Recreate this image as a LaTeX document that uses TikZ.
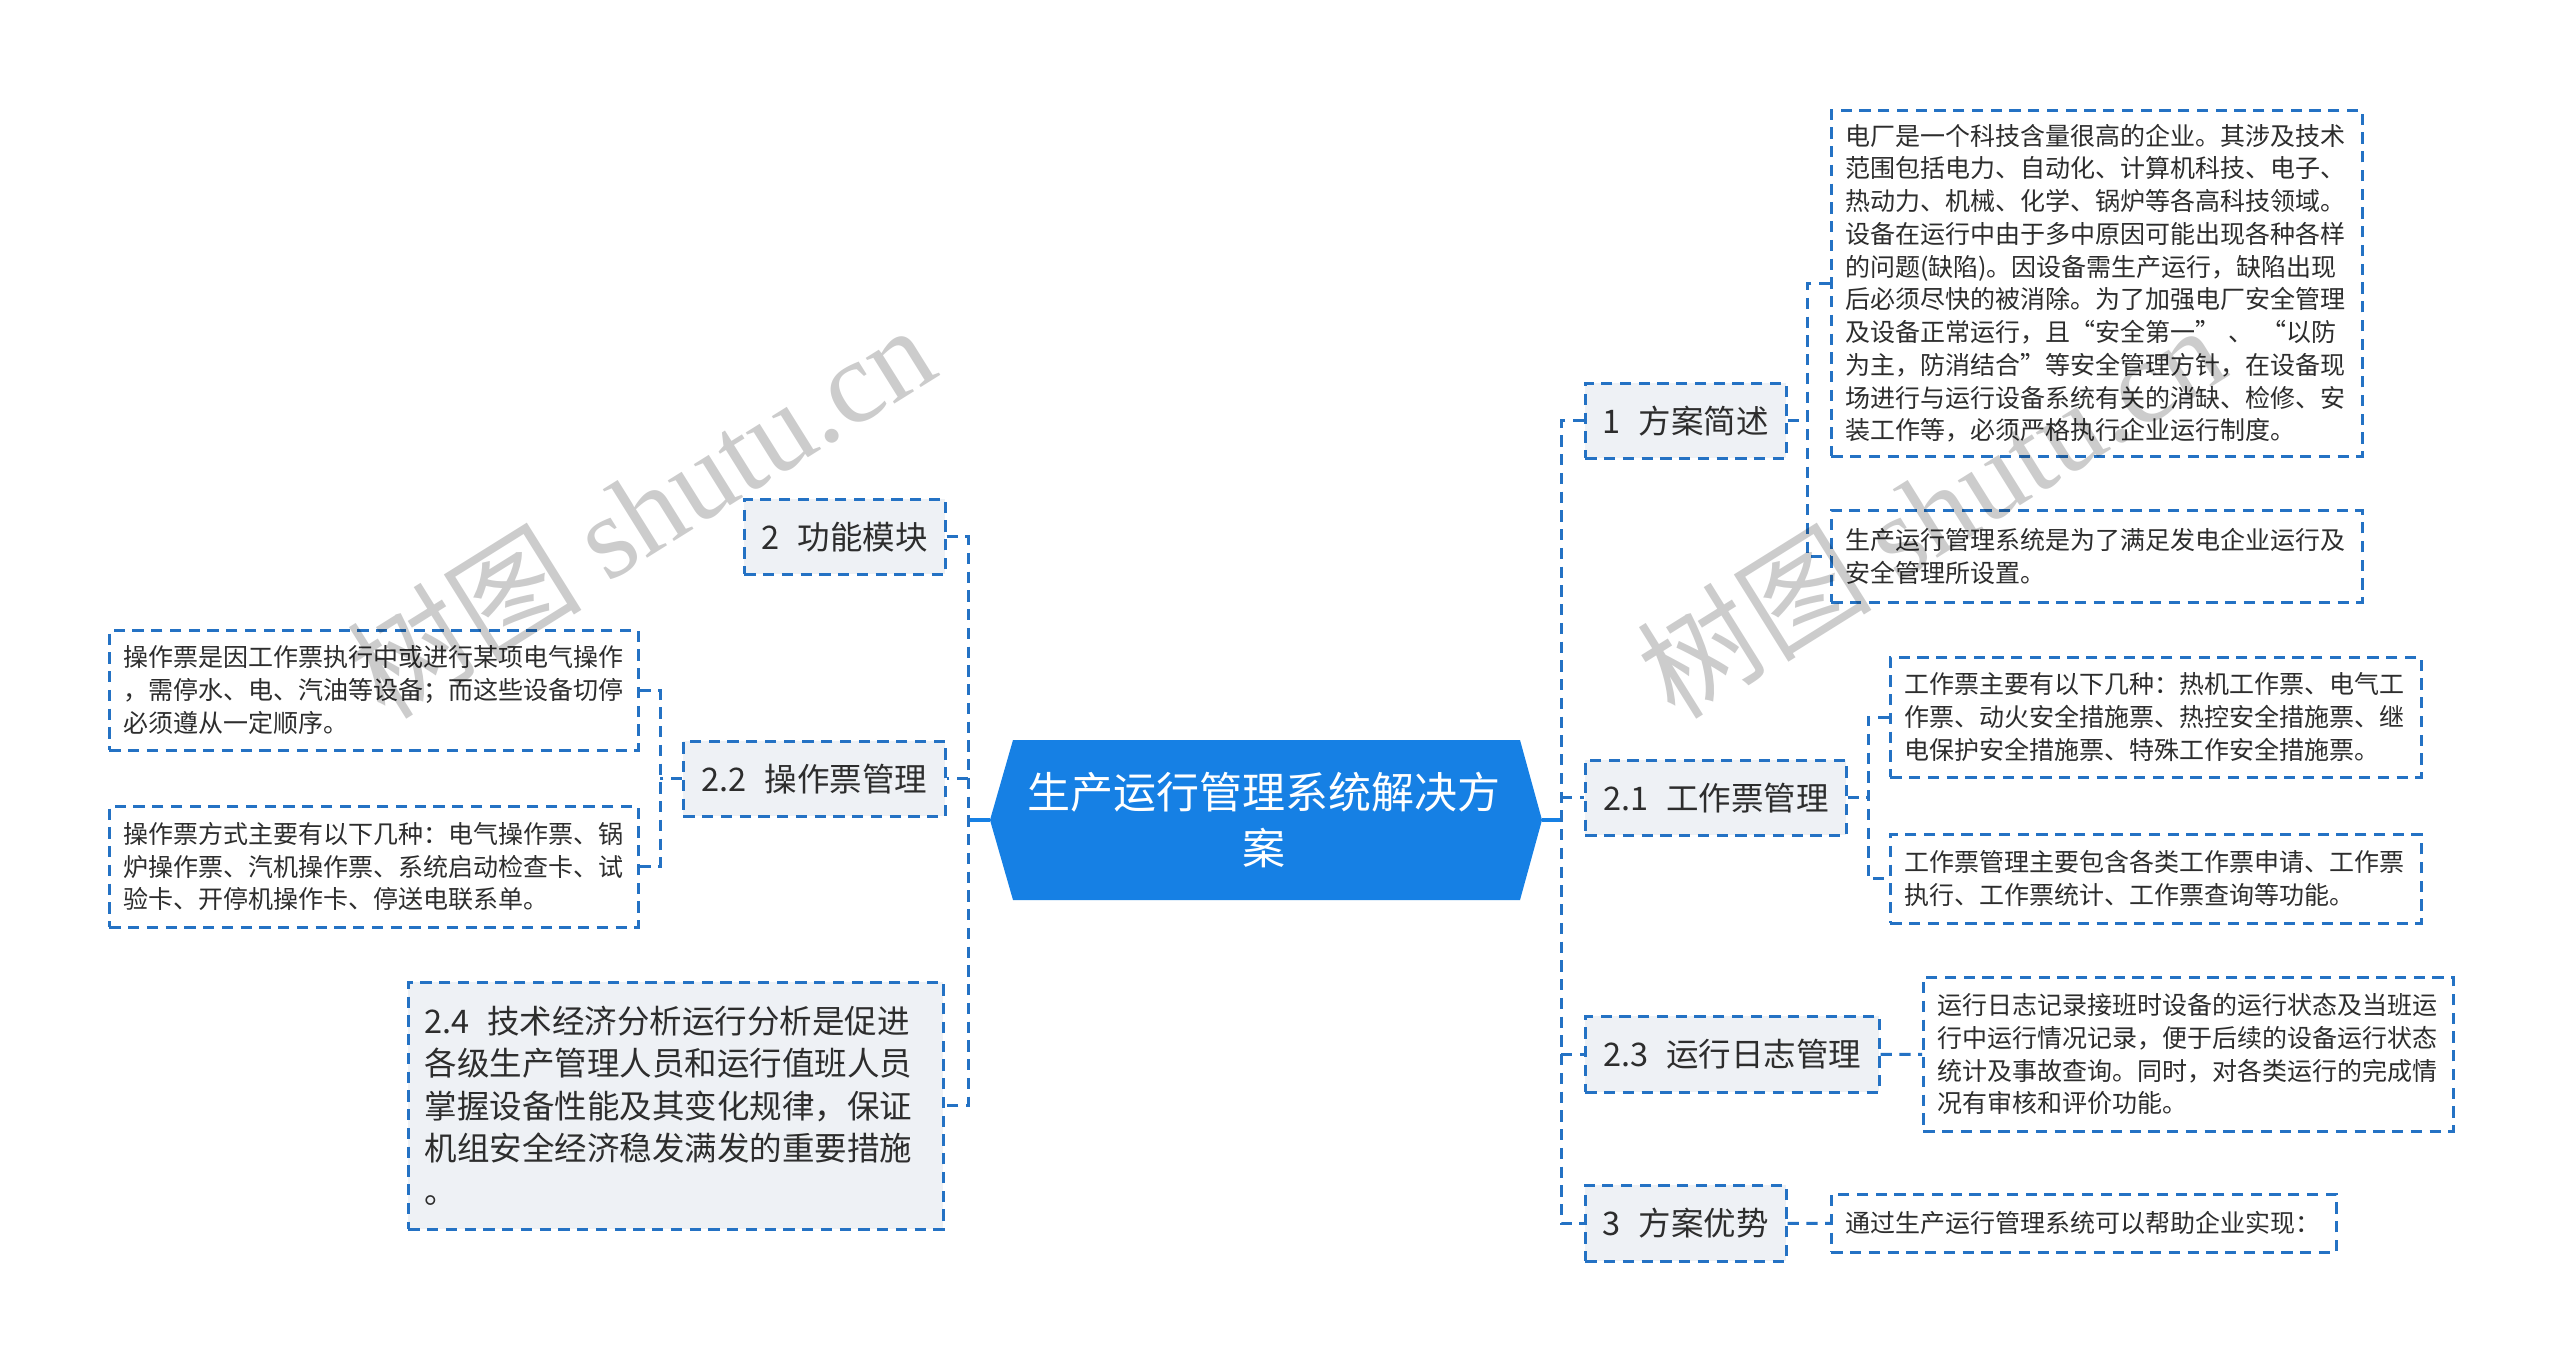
\documentclass[tikz,border=0pt]{standalone}
\usepackage{fontspec}
\setmainfont{Noto Sans CJK SC}
\newfontfamily\wmserif{Liberation Serif}
\definecolor{lblue}{RGB}{36,114,196}
\definecolor{cblue}{RGB}{22,128,228}
\definecolor{lgray}{RGB}{238,241,245}
\definecolor{tdark}{RGB}{45,45,45}
\begin{document}
\begin{tikzpicture}[x=0.4pt,y=-0.4pt,
 tbox/.style={draw=lblue, line width=1pt, dash pattern=on 4.5pt off 3pt, fill=white, inner xsep=5.5pt, inner ysep=0pt, anchor=north west, align=left, font=\fontsize{10}{13.1}\selectfont, text=tdark},
 lbox/.style={draw=lblue, line width=1pt, dash pattern=on 4.5pt off 3pt, fill=lgray, inner sep=0pt, anchor=north west, font=\fontsize{13}{17}\selectfont, text=tdark},
 conn/.style={draw=lblue, line width=1.2pt, dash pattern=on 4.5pt off 3pt},
 stub/.style={draw=cblue, line width=1.6pt},
 wm/.style={text=black, opacity=0.2, font=\fontsize{47}{50}\selectfont, inner sep=0pt}]
\useasboundingbox (0,0) rectangle (2560,1368);
\fill[white] (0,0) rectangle (2560,1368);

% central node
\coordinate (cl) at (990,820);
\coordinate (cr) at (1542,820);
\fill[cblue] (cl) -- (1013,740) -- (1520,740) -- (cr) -- (1520,900) -- (1013,900) -- cycle;
\node[font=\fontsize{17.2}{22.2}\selectfont, text=white, align=center] (C0) at (1264,820) {生产运行管理系统解决方\\案};

% right level-1
\node[lbox, minimum width=80.4pt, minimum height=30pt] (L1) at (1584,382) {1\hspace{0.55em}方案简述};
\node[lbox, minimum width=104.4pt, minimum height=30pt] (L21) at (1584,759) {2.1\hspace{0.55em}工作票管理};
\node[lbox, minimum width=117.6pt, minimum height=30.4pt] (L23) at (1584,1015) {2.3\hspace{0.55em}运行日志管理};
\node[lbox, minimum width=80.4pt, minimum height=30.4pt] (L3) at (1584,1184) {3\hspace{0.55em}方案优势};

% left level-1
\node[lbox, minimum width=80.4pt, minimum height=30pt] (L2) at (743,498) {2\hspace{0.55em}功能模块};
\node[lbox, minimum width=104.8pt, minimum height=30pt] (L22) at (682,740) {2.2\hspace{0.55em}操作票管理};
\node[lbox, inner xsep=6.5pt, text width=201pt, minimum height=98.8pt, align=left] (L24) at (407,981) {2.4\hspace{0.55em}技术经济分析运行分析是促进\\各级生产管理人员和运行值班人员\\掌握设备性能及其变化规律，保证\\机组安全经济稳发满发的重要措施\\。};

% leaves
\node[tbox, text width=201.4pt, minimum height=138.4pt] (A) at (1830,109) {电厂是一个科技含量很高的企业。其涉及技术\\范围包括电力、自动化、计算机科技、电子、\\热动力、机械、化学、锅炉等各高科技领域。\\设备在运行中由于多中原因可能出现各种各样\\的问题(缺陷)。因设备需生产运行，缺陷出现\\后必须尽快的被消除。为了加强电厂安全管理\\及设备正常运行，且“安全第一” 、 “以防\\为主，防消结合”等安全管理方针，在设备现\\场进行与运行设备系统有关的消缺、检修、安\\装工作等，必须严格执行企业运行制度。};
\node[tbox, text width=201.4pt, minimum height=36.8pt] (B) at (1830,509) {生产运行管理系统是为了满足发电企业运行及\\安全管理所设置。};
\node[tbox, text width=201.4pt, minimum height=48pt] (C) at (1889,656) {工作票主要有以下几种：热机工作票、电气工\\作票、动火安全措施票、热控安全措施票、继\\电保护安全措施票、特殊工作安全措施票。};
\node[tbox, text width=201.4pt, minimum height=35.6pt] (D) at (1889,833) {工作票管理主要包含各类工作票申请、工作票\\执行、工作票统计、工作票查询等功能。};
\node[tbox, text width=201pt, minimum height=61.6pt] (E) at (1922,976) {运行日志记录接班时设备的运行状态及当班运\\行中运行情况记录，便于后续的设备运行状态\\统计及事故查询。同时，对各类运行的完成情\\况有审核和评价功能。};
\node[tbox, text width=191pt, minimum height=23.2pt] (F) at (1830,1193) {通过生产运行管理系统可以帮助企业实现：};
\node[tbox, text width=200.6pt, minimum height=48pt] (G) at (108,629) {操作票是因工作票执行中或进行某项电气操作\\，需停水、电、汽油等设备；而这些设备切停\\必须遵从一定顺序。};
\node[tbox, text width=200.6pt, minimum height=48.4pt] (H) at (108,805) {操作票方式主要有以下几种：电气操作票、锅\\炉操作票、汽机操作票、系统启动检查卡、试\\验卡、开停机操作卡、停送电联系单。};

% trunk coordinates
\coordinate (rt) at (1561,0);
\coordinate (lt) at (968,0);
\coordinate (s1) at (1807,0);
\coordinate (s21) at (1868,0);
\coordinate (s22) at (660,0);

% right trunk
\draw[stub] (cr) -- (cr -| rt);
\draw[conn] (L1.west) -- (L1.west -| rt) -- (L3.west -| rt) -- (L3.west);
\draw[conn] (L21.west -| rt) -- (L21.west);
\draw[conn] (L23.west -| rt) -- (L23.west);
% left trunk
\draw[stub] (cl) -- (cl -| lt);
\draw[conn] (L2.east) -- (L2.east -| lt) -- (L24.east -| lt) -- (L24.east);
\draw[conn] (L22.east -| lt) -- (L22.east);

% sub connectors
\draw[conn] (L1.east) -- (L1.east -| s1);
\draw[conn] (A.west) -- (A.west -| s1) -- (B.west -| s1) -- (B.west);
\draw[conn] (L21.east) -- (L21.east -| s21);
\draw[conn] (C.west) -- (C.west -| s21) -- (D.west -| s21) -- (D.west);
\draw[conn] (L23.east) -- (E.west);
\draw[conn] (L3.east) -- (F.west);
\draw[conn] (L22.west) -- (L22.west -| s22);
\draw[conn] (G.east) -- (G.east -| s22) -- (H.east -| s22) -- (H.east);

% watermarks
\node[wm, rotate=32] (w1) at (640,510) {树图 {\wmserif shutu.cn}};
\node[wm, rotate=32] (w2) at (1930,510) {树图 {\wmserif shutu.cn}};
\end{tikzpicture}
\end{document}
